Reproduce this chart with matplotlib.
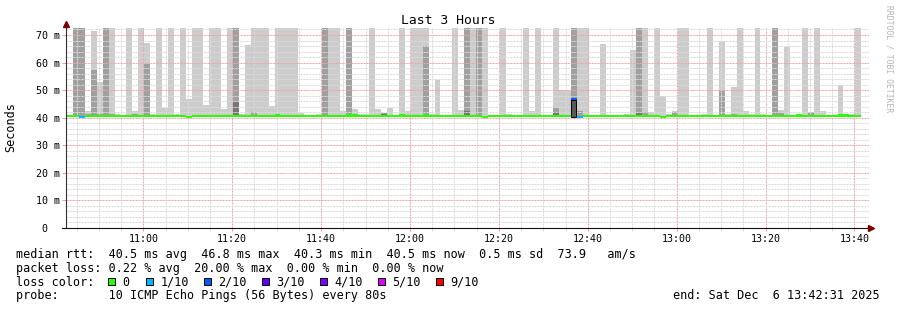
import numpy as np
import matplotlib
matplotlib.use("Agg")
import matplotlib.pyplot as plt
from matplotlib.patches import Rectangle

plt.rcParams['font.family'] = ['DejaVu Sans Mono']

# ---- data ----
first_step = "10:42:52"      # start of the first 80 s step
step_sec = 80

# top of the outer (lightest) smoke per step, ms; 0 = nothing above the median
outer_top = [
    0, 75, 75, 42.4, 71.6, 53.0, 75, 75, 41.5, 41.0,
    75, 42.4, 75, 67.0, 41.5, 75, 43.4, 75, 41.5, 75,
    46.8, 75, 75, 44.6, 75, 75, 43.3, 75, 75, 41.5,
    66.4, 75, 75, 75, 44.3, 75, 75, 75, 75, 41.7,
    41.0, 41.0, 41.2, 75, 75, 75, 42.4, 75, 43.0, 41.5,
    41.5, 75, 43.0, 41.5, 43.4, 41.0, 75, 42.4, 75, 75,
    75, 41.5, 53.7, 41.0, 41.0, 75, 42.8, 75, 75, 75,
    75, 41.0, 41.0, 75, 41.2, 41.0, 41.0, 75, 42.4, 75,
    41.0, 41.0, 75, 50.0, 50.0, 75, 75, 75, 41.0, 41.0,
    66.7, 41.0, 41.0, 41.0, 41.5, 64.5, 75, 75, 42.0, 75,
    47.9, 41.5, 42.5, 75, 75, 41.0, 41.0, 41.3, 75, 41.0,
    68.0, 41.5, 51.1, 75, 42.5, 41.5, 75, 41.5, 41.0, 75,
    42.9, 65.7, 41.0, 41.0, 75, 42.0, 75, 42.5, 41.0, 41.0,
    51.9, 41.0, 41.5, 75,
]

# inner smoke layers (sparse): step index and top value in ms
mid_steps = [1, 2, 3, 4, 5, 6, 7, 11, 13, 28, 31, 43, 47, 53, 60, 67, 69,
             82, 85, 86, 96, 97, 102, 110, 112, 119, 120, 125]
mid_tops = [75, 75, 41.5, 57.3, 41.5, 75, 41.5, 41.5, 59.5, 75, 42.0, 75, 75,
            41.8, 66.0, 75, 75, 43.5, 75, 42.5, 75, 42.0, 42.0, 49.7, 41.5,
            75, 41.8, 42.0]
dark_steps = [28, 53, 67, 82, 96]
dark_tops = [45.7, 41.5, 42.5, 42.0, 41.8]

# step with the outlined loss box
box_steps = [85]
box_tops = [46.4]

median = [
    40.5, 40.5, 40.4, 40.5, 40.5, 40.5, 40.5, 40.5, 40.5, 40.5,
    40.5, 40.5, 40.5, 40.5, 40.5, 40.5, 40.5, 40.5, 40.5, 40.5,
    40.4, 40.5, 40.5, 40.5, 40.5, 40.5, 40.5, 40.5, 40.5, 40.5,
    40.5, 40.5, 40.5, 40.5, 40.5, 40.8, 40.5, 40.5, 40.5, 40.5,
    40.5, 40.5, 40.5, 40.5, 40.5, 40.5, 40.5, 40.8, 40.8, 40.5,
    40.5, 40.5, 40.5, 40.5, 40.5, 40.5, 40.8, 40.5, 40.5, 40.5,
    40.8, 40.5, 40.5, 40.5, 40.5, 40.5, 40.5, 40.5, 40.5, 40.5,
    40.4, 40.5, 40.5, 40.5, 40.5, 40.5, 40.5, 40.5, 40.5, 40.5,
    40.5, 40.5, 40.5, 40.5, 40.7, 46.8, 40.3, 40.5, 40.5, 40.5,
    40.5, 40.5, 40.5, 40.5, 40.5, 40.5, 40.5, 40.5, 40.5, 40.5,
    40.4, 40.5, 40.5, 40.5, 40.5, 40.5, 40.5, 40.5, 40.5, 40.5,
    40.5, 40.5, 40.5, 40.5, 40.5, 40.5, 40.5, 40.5, 40.5, 40.5,
    40.5, 40.5, 40.5, 40.8, 40.5, 40.5, 40.5, 40.5, 40.5, 40.5,
    40.8, 40.8, 40.5, 40.5,
]
# lost pings out of 10 per step
loss = [0] * 134
loss[2] = 1
loss[85] = 2
loss[86] = 1

loss_labels = ["0", "1/10", "2/10", "3/10", "4/10", "5/10", "9/10"]
loss_colors = ['#26ff00', '#00b8ff', '#0059ff', '#5e00ff', '#7e00ff', '#dd00ff', '#ff0000']
loss_tenths = [0, 1, 2, 3, 4, 5, 9]

time_labels = ["11:00", "11:20", "11:40", "12:00", "12:20", "12:40", "13:00", "13:20", "13:40"]
y_values = [0, 10, 20, 30, 40, 50, 60, 70]
y_labels = ["0  ", "10 m", "20 m", "30 m", "40 m", "50 m", "60 m", "70 m"]

rtt_stats = [40.5, 46.8, 40.3, 40.5, 0.5]   # avg max min now sd
am_s = 73.9
loss_stats = [0.22, 20.00, 0.00, 0.00]      # avg max min now
end_label = "end: Sat Dec  6 13:42:31 2025"


def hm(s):
    parts = s.split(':')
    v = int(parts[0]) * 60 + int(parts[1])
    if len(parts) > 2:
        v += int(parts[2]) / 60
    return v


W, H = 897, 310
fig = plt.figure(figsize=(W / 100, H / 100), dpi=100)
fig.patch.set_facecolor('white')


def fx(px):
    return px / W


def fy(py):
    return 1 - py / H


# plot area: x 66..869 px, y 28..228 px
ax = fig.add_axes([fx(66), fy(228), (869 - 66) / W, 200 / H])
ppm = 800 / 180.0                      # pixels per minute
xmin = hm("11:00") - (143.3 - 66) / ppm
xmax = xmin + (869 - 66) / ppm
ymax = 200 / 2.757
ax.set_xlim(xmin, xmax)
ax.set_ylim(0, ymax)

n = len(outer_top)
step_min = step_sec / 60.0
t = hm(first_step) + np.arange(n) * step_min
base = 40.3

outer = np.array(outer_top)
m = outer > 0
ax.bar(t[m], outer[m] - base, bottom=base, width=step_min, align='edge',
       color='#cccccc', lw=0, zorder=1, antialiased=False)
ax.bar(t[mid_steps], np.array(mid_tops) - base, bottom=base, width=step_min,
       align='edge', color='#a0a0a0', lw=0, zorder=1.1, antialiased=False)
ax.bar(t[dark_steps], np.array(dark_tops) - base, bottom=base, width=step_min,
       align='edge', color='#777777', lw=0, zorder=1.2, antialiased=False)
ax.bar(t[box_steps], np.array(box_tops) - 40.4, bottom=40.4, width=step_min * 0.9,
       align='edge', facecolor='#5a5a5a', edgecolor='black', lw=0.7, zorder=2.8)

med = np.array(median)
cols = [loss_colors[loss_tenths.index(l)] for l in loss]
ax.bar(t, 0.74, bottom=med - 0.37, width=step_min, align='edge',
       color=cols, lw=0, zorder=3, antialiased=False)

# grid and ticks
major_x = [hm(s) for s in time_labels]
minor_x = [v for v in np.arange(645, xmax, 5) if v % 20 != 0]
ax.set_xticks(major_x, time_labels)
ax.set_xticks(minor_x, minor=True)
ax.set_yticks(y_values, y_labels)
ax.set_yticks([v for v in range(2, 73, 2) if v % 10], minor=True)
ax.set_axisbelow(False)
ax.grid(which='major', color='#f4a4a4', ls=(0, (2, 1)), lw=0.72)
ax.grid(which='minor', color='#dadada', ls=(0, (2, 1)), lw=0.72)
ax.tick_params(axis='x', which='major', length=2.2, width=0.72, color='#f29a9a',
               pad=2.2, labelsize=7.2)
ax.tick_params(axis='x', which='minor', length=2.2, width=0.72, color='#dcdcdc')
ax.tick_params(axis='y', which='major', length=2.6, width=0.72, color='#f29a9a',
               pad=2.0, labelsize=7.2)
ax.tick_params(axis='y', which='minor', length=0)
for s in ax.spines.values():
    s.set_visible(False)

# axes with arrows
x_axis = xmin + 0.5 / ppm
ax.plot([x_axis, x_axis], [0, (228 - 26) / 2.757], color='#333333', lw=0.8,
        clip_on=False, zorder=4)
ax.plot([xmin - 4 / ppm, xmin + (870 - 66) / ppm], [0, 0], color='#111111', lw=0.8,
        clip_on=False, zorder=4)
ax.plot([x_axis], [(228 - 24) / 2.757], marker='^', ms=4.2, color='#7f0000',
        mec='#7f0000', clip_on=False, zorder=5)
ax.plot([xmin + (871.5 - 66) / ppm], [0], marker='>', ms=4.2, color='#7f0000',
        mec='#7f0000', clip_on=False, zorder=5)

# texts
fig.text(fx(448), fy(24), "Last 3 Hours", ha='center', va='baseline', fontsize=9.4)
fig.text(fx(11), fy(127), "Seconds", rotation=90, ha='center', va='center', fontsize=8.45)
fig.text(fx(888.5), fy(59), "RRDTOOL / TOBI OETIKER", rotation=270, ha='center',
         va='center', fontsize=5.8, color='#b4b4b4')

fs = 8.45
row1 = ("median rtt:  {:.1f} ms avg  {:.1f} ms max  {:.1f} ms min  {:.1f} ms now  "
        "{:.1f} ms sd  {:.1f}   am/s").format(*rtt_stats, am_s)
row2 = "packet loss: {:.2f} % avg  {:.2f} % max  {:.2f} % min  {:.2f} % now".format(*loss_stats)
fig.text(fx(16), fy(258.3), row1, ha='left', va='baseline', fontsize=fs)
fig.text(fx(16), fy(272), row2, ha='left', va='baseline', fontsize=fs)
fig.text(fx(16), fy(285.7), "loss color:", ha='left', va='baseline', fontsize=fs)
fig.text(fx(16), fy(299.4), "probe:       10 ICMP Echo Pings (56 Bytes) every 80s",
         ha='left', va='baseline', fontsize=fs)
fig.text(fx(880), fy(299.4), end_label, ha='right', va='baseline', fontsize=fs)

box_x = [108, 146, 204, 262, 320, 378, 436]
for bx, lab, c in zip(box_x, loss_labels, loss_colors):
    fig.add_artist(Rectangle((fx(bx), fy(285)), 7 / W, 7 / H, transform=fig.transFigure,
                             facecolor=c, edgecolor='black', lw=0.7))
    fig.text(fx(bx + 14.5), fy(285.7), lab, ha='left', va='baseline', fontsize=fs)

fig.savefig("out.png", dpi=100, facecolor='white')
